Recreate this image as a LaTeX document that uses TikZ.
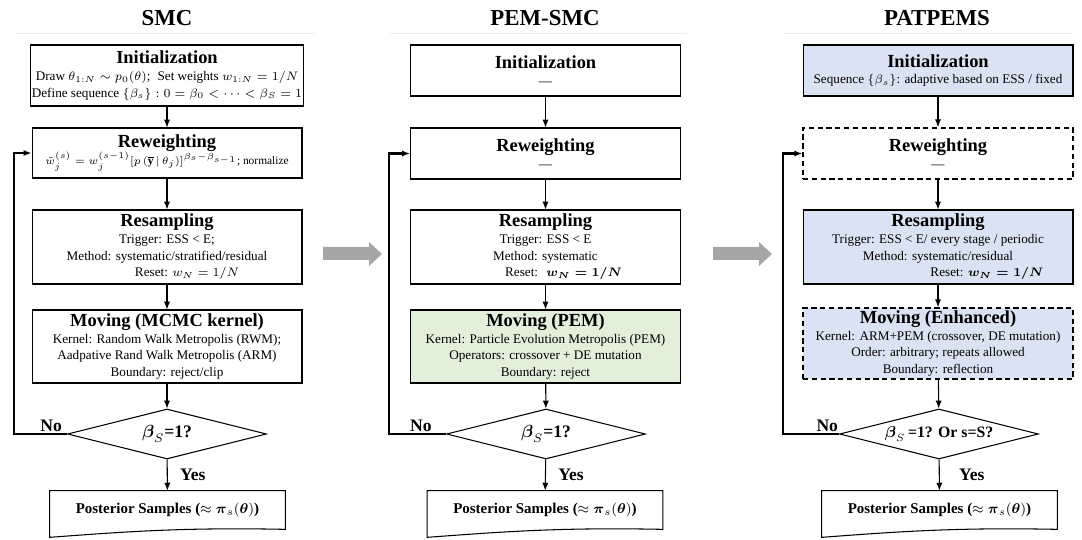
\documentclass[tikz,border=0pt]{standalone}
\usepackage{amsmath}
\usepackage{fontspec}
\setmainfont{Liberation Serif}
\usetikzlibrary{arrows.meta,shapes.geometric}

\definecolor{pemgreen}{HTML}{E2EFDA}
\definecolor{patblue}{HTML}{DAE3F3}
\newcommand{\hd}[1]{{\fontsize{10.5}{12}\selectfont\bfseries #1}}

\begin{document}
\begin{tikzpicture}[x=0.02cm,y=-0.02cm,
  box/.style={draw,line width=0.6pt,minimum width=5.4cm,align=center,inner sep=1pt,
    font=\fontsize{7.5}{9.5}\selectfont},
  dashbox/.style={box,dashed,dash pattern=on 3pt off 2pt,line width=0.9pt},
  cond/.style={diamond,draw,line width=0.6pt,aspect=4,inner sep=0pt,
    minimum width=3.98cm,minimum height=1cm,font=\fontsize{10}{12}\selectfont\bfseries},
  post/.style={minimum width=4.7cm,minimum height=0.76cm,inner sep=0pt,
    font=\fontsize{8.5}{10}\selectfont\bfseries},
  lbl/.style={font=\fontsize{10}{12}\selectfont\bfseries,inner sep=1pt},
  coltitle/.style={font=\fontsize{13}{15}\selectfont\bfseries},
  arr/.style={-{Latex[length=4.5pt,width=3.5pt]},line width=0.6pt},
  back/.style={-{Latex[length=4.5pt,width=3.5pt]},line width=1.2pt},
  bigarrow/.style={fill=black!35,draw=none}]
\useasboundingbox (0,0) rectangle (1082,540);

\node[coltitle] (t1) at (167,18) {SMC};
\node[coltitle] (t2) at (545,18) {PEM-SMC};
\node[coltitle] (t3) at (937,18) {PATPEMS};
\draw[black!8] (15,33) -- (315,33);
\draw[black!8] (390,33) -- (687,33);
\draw[black!8] (783,33) -- (1073,33);

% SMC
\node[box,minimum height=1.22cm] (init1) at (167,75.5) {\hd{Initialization}\\
  Draw $\theta_{1:N}\sim p_0(\theta)$;\; Set weights $w_{1:N}=1/N$\\
  Define sequence $\{\beta_s\}: 0=\beta_0<\cdots<\beta_S=1$};
\node[box,minimum height=1cm] (rew1) at (167,153) {\hd{Reweighting}\\
  {\fontsize{6.5}{8}\selectfont$\tilde{w}_j^{(s)}=w_j^{(s-1)}[p\,(\overline{\mathbf{y}}\,|\,\theta_j)]^{\beta_s-\beta_{s-1}}$; normalize}};
\node[box,minimum height=1.48cm] (res1) at (167,247) {\hd{Resampling}\\
  Trigger: ESS < E;\\
  Method: systematic/stratified/residual\\
  \hspace*{0.8cm}Reset: $w_N=1/N$};
\node[box,minimum height=1.46cm] (mov1) at (167,346.5) {\hd{Moving (MCMC kernel)}\\
  Kernel: Random Walk Metropolis (RWM);\\
  Aadpative Rand Walk Metropolis (ARM)\\
  Boundary: reject/clip};
\node[cond] (chk1) at (167,434) {$\boldsymbol{\beta}_S$=1?};
\node[post] (post1) at (167.5,510) {Posterior Samples ($\approx\boldsymbol{\pi}_s(\boldsymbol{\theta})$)};
\draw[line width=0.6pt] (post1.south west) -- (post1.north west) -- (post1.north east) -- (post1.south east)
  .. controls +(-100,-2) and +(80,-6) .. ([yshift=-0.16cm]post1.south west) -- cycle;

\draw[arr] (init1) -- (rew1);
\draw[arr] (rew1) -- (res1);
\draw[arr] (res1) -- (mov1);
\draw[arr] (mov1) -- (chk1);
\draw[arr] (chk1) -- node[right=6pt,lbl]{Yes} (post1);
\draw[back] (chk1.west) -- ++(-53,0) node[pos=0.3,above,lbl]{No} |- (rew1.west);

% PEM-SMC
\node[box,minimum height=1.02cm] (init2) at (545.5,70.5) {\hd{Initialization}\\ ---};
\node[box,minimum height=1.02cm] (rew2) at (545.5,153.5) {\hd{Reweighting}\\ ---};
\node[box,minimum height=1.48cm] (res2) at (545.5,247) {\hd{Resampling}\\
  Trigger: ESS < E\\
  Method: systematic\\
  \hspace*{0.72cm}Reset:\; $\boldsymbol{w_N=1/N}$};
\node[box,fill=pemgreen,minimum height=1.46cm] (mov2) at (545.5,346.5) {\hd{Moving (PEM)}\\
  Kernel: Particle Evolution Metropolis (PEM)\\
  Operators: crossover + DE mutation\\
  Boundary: reject};
\node[cond] (chk2) at (546,434) {$\boldsymbol{\beta}_S$=1?};
\node[post] (post2) at (545,510) {Posterior Samples ($\approx\boldsymbol{\pi}_s(\boldsymbol{\theta})$)};
\draw[line width=0.6pt] (post2.south west) -- (post2.north west) -- (post2.north east) -- (post2.south east)
  .. controls +(-100,-2) and +(80,-6) .. ([yshift=-0.16cm]post2.south west) -- cycle;

\draw[arr] (init2) -- (rew2);
\draw[arr] (rew2) -- (res2);
\draw[arr] (res2) -- (mov2);
\draw[arr] (mov2) -- (chk2);
\draw[arr] (chk2) -- node[right=6pt,lbl]{Yes} (post2);
\draw[back] (chk2.west) -- ++(-57,0) node[pos=0.44,above,lbl]{No} |- (rew2.west);

% PATPEMS
\node[box,fill=patblue,minimum height=1.02cm] (init3) at (938,70.5) {\hd{Initialization}\\
  Sequence $\{\beta_s\}$: adaptive based on ESS / fixed};
\node[dashbox,minimum height=1.02cm] (rew3) at (938,153.5) {\hd{Reweighting}\\ ---};
\node[box,fill=patblue,minimum height=1.48cm] (res3) at (938,247) {\hd{Resampling}\\
  Trigger: ESS < E/ every stage / periodic\\
  Method: systematic/residual\\
  \hspace*{1.96cm}Reset: $\boldsymbol{w_N=1/N}$};
\node[dashbox,fill=patblue,minimum height=1.42cm] (mov3) at (938,343.5) {\hd{Moving (Enhanced)}\\
  Kernel: ARM+PEM (crossover, DE mutation)\\
  Order: arbitrary; repeats allowed\\
  Boundary: reflection};
\node[cond,font=\fontsize{9}{11}\selectfont\bfseries] (chk3) at (939,434) {$\boldsymbol{\beta}_S$\,=1? Or s=S?};
\node[post] (post3) at (939.5,510) {Posterior Samples ($\approx\boldsymbol{\pi}_s(\boldsymbol{\theta})$)};
\draw[line width=0.6pt] (post3.south west) -- (post3.north west) -- (post3.north east) -- (post3.south east)
  .. controls +(-100,-2) and +(80,-6) .. ([yshift=-0.16cm]post3.south west) -- cycle;

\draw[arr] (init3) -- (rew3);
\draw[arr] (rew3) -- (res3);
\draw[arr] (res3) -- (mov3);
\draw[arr] (mov3) -- (chk3);
\draw[arr] (chk3) -- node[right=10pt,lbl]{Yes} (post3);
\draw[back] (chk3.west) -- ++(-56,0) node[pos=0.21,above,lbl]{No} |- (rew3.west);

% arrows between the columns
\fill[bigarrow] (323,247) -- (369,247) -- (369,242) -- (382,254) -- (369,266) -- (369,260) -- (323,260) -- cycle;
\fill[bigarrow] (713,247) -- (759,247) -- (759,242) -- (772,254) -- (759,266) -- (759,260) -- (713,260) -- cycle;
\end{tikzpicture}
\end{document}
